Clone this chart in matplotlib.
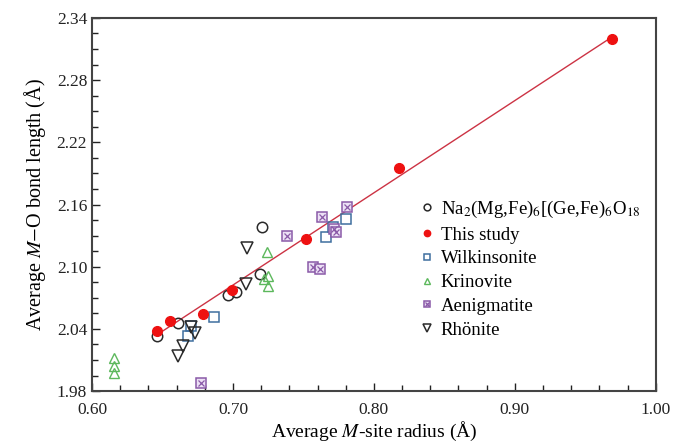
import numpy as np
import matplotlib
matplotlib.use("Agg")
import matplotlib.pyplot as plt
from matplotlib.legend_handler import HandlerTuple
from matplotlib.ticker import MultipleLocator, FormatStrFormatter

plt.rcParams['font.family'] = ['Liberation Serif', 'DejaVu Serif']
plt.rcParams['mathtext.fontset'] = 'stix'

# ---- data ----
na_x = [0.646, 0.661, 0.6965, 0.702, 0.719, 0.7206]
na_y = [2.033, 2.0456, 2.073, 2.076, 2.0925, 2.1386]

study_x = [0.646, 0.655, 0.679, 0.699, 0.752, 0.818, 0.969]
study_y = [2.038, 2.048, 2.054, 2.0775, 2.127, 2.195, 2.3195]
study_err = [0.003, 0.003, 0.003, 0.003, 0.003, 0.004, 0.003]

wilk_x = [0.668, 0.670, 0.6865, 0.7658, 0.7711, 0.7805]
wilk_y = [2.033, 2.043, 2.0517, 2.1289, 2.1386, 2.1457]

krin_x = [0.6156, 0.6156, 0.6156, 0.7239, 0.725, 0.722, 0.7246]
krin_y = [2.0116, 2.0045, 1.9977, 2.1145, 2.0915, 2.088, 2.0813]

aenig_x = [0.6773, 0.7385, 0.7629, 0.7806, 0.7716, 0.773, 0.757, 0.7617]
aenig_y = [1.988, 2.1296, 2.1482, 2.1579, 2.1361, 2.1338, 2.0994, 2.0975]

rhon_x = [0.6608, 0.6648, 0.670, 0.673, 0.709, 0.7097]
rhon_y = [2.0138, 2.0234, 2.042, 2.0357, 2.0833, 2.1177]

fig = plt.figure(figsize=(6.74, 4.47), dpi=100)
ax = fig.add_axes([0.1365, 0.125, 0.8365, 0.835])

ms = 7.5
k_c = '#2a2a2a'
blue = '#3f6f9f'
green = '#5cb85c'
purple = '#8a5aa8'
red = '#ee1111'

# fit line through this study
coef = np.polyfit(study_x, study_y, 1)
lx = np.array([min(study_x), max(study_x)])
ax.plot(lx, np.polyval(coef, lx), color='#cc3344', lw=1.0, zorder=2)

h_na, = ax.plot(na_x, na_y, 'o', mfc='none', mec=k_c, mew=1.1, ms=ms, zorder=3)
ax.errorbar(study_x, study_y, yerr=study_err, fmt='none', ecolor=red, elinewidth=2, capsize=0, zorder=4)
h_st, = ax.plot(study_x, study_y, 'o', mfc=red, mec=red, ms=7, zorder=5)
h_wk, = ax.plot(wilk_x, wilk_y, 's', mfc='none', mec=blue, mew=1.1, ms=6.5, zorder=3)
h_kr, = ax.plot(krin_x, krin_y, '^', mfc='none', mec=green, mew=1.0, ms=7.5, zorder=3)
h_ae1, = ax.plot(aenig_x, aenig_y, 's', mfc='#ece0f5', mec=purple, mew=1.1, ms=7, zorder=3)
h_ae2, = ax.plot(aenig_x, aenig_y, 'x', mfc='none', mec=purple, mew=0.9, ms=5, zorder=3)
h_rh, = ax.plot(rhon_x, rhon_y, 'v', mfc='none', mec=k_c, mew=1.1, ms=8, zorder=3)

ax.set_xlim(0.60, 1.00)
ax.set_ylim(1.98, 2.34)
ax.xaxis.set_major_locator(MultipleLocator(0.10))
ax.xaxis.set_minor_locator(MultipleLocator(0.02))
ax.yaxis.set_major_locator(MultipleLocator(0.06))
ax.yaxis.set_minor_locator(MultipleLocator(0.015))
ax.xaxis.set_major_formatter(FormatStrFormatter('%.2f'))
ax.yaxis.set_major_formatter(FormatStrFormatter('%.2f'))
ax.tick_params(which='both', direction='in', top=False, right=False, labelsize=12.5, colors='#222')
ax.tick_params(which='major', length=6, width=1)
ax.tick_params(which='minor', length=4, width=1)
ax.tick_params(axis='x', pad=8)
for s in ax.spines.values():
    s.set_color('#444')
    s.set_linewidth(1.5)

ax.set_xlabel('Average $\\mathit{M}$-site radius (Å)', fontsize=14, labelpad=1)
ax.set_ylabel('Average $\\mathit{M}$$-$O bond length (Å)', fontsize=14.5, labelpad=6)

labels = ['Na$_2$(Mg,Fe)$_6$[(Ge,Fe)$_6$O$_{18}$', 'This study', 'Wilkinsonite',
          'Krinovite', 'Aenigmatite', 'Rhönite']
handles = [h_na, h_st, h_wk, h_kr, (h_ae1, h_ae2), h_rh]
leg = ax.legend(handles, labels, loc='upper left', bbox_to_anchor=(0.555, 0.56),
                frameon=False, fontsize=13.5, markerscale=0.65, handlelength=0.6,
                handletextpad=0.4, labelspacing=0.35,
                handler_map={tuple: HandlerTuple(ndivide=1, pad=0)})

fig.savefig('out.png', dpi=100)
